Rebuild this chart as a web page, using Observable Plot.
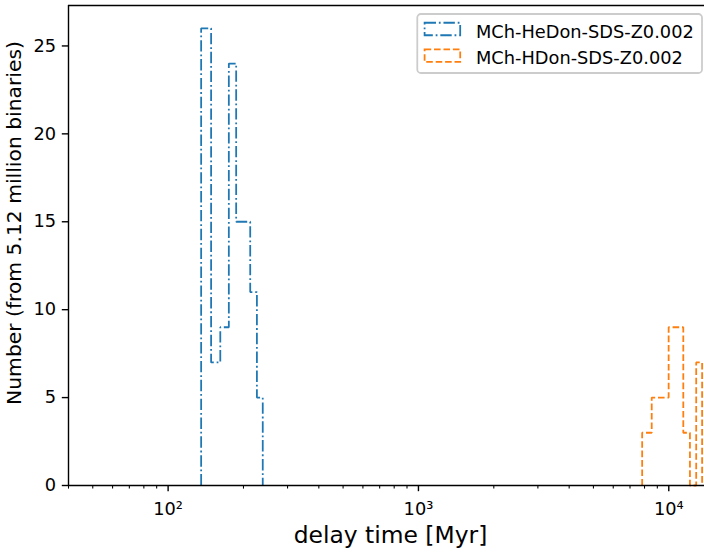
<!DOCTYPE html>
<html>
<head>
<meta charset="utf-8">
<script src="https://cdn.jsdelivr.net/npm/d3@7"></script>
<script src="https://cdn.jsdelivr.net/npm/@observablehq/plot@0.6"></script>
<style>
  html, body { margin: 0; padding: 0; background: white; }
  #chart { position: relative; width: 704px; height: 552px; overflow: hidden; }
</style>
</head>
<body>
<div id="chart"></div>
<script>
// ---- data ----
const seriesNames = ["MCh-HeDon-SDS-Z0.002", "MCh-HDon-SDS-Z0.002"];
const seriesColors = ["#1f77b4", "#ff7f0e"];
// bin edges (Myr) and counts
const heDonEdges = [135.5, 148.5, 161.6, 174.8, 187.0, 200.0, 212.8, 226.3, 238.8];
const heDonCounts = [26, 7, 9, 24, 15, 15, 11, 5];
const hDonEdges = [7828, 8548, 9268, 9988, 10708, 11428, 12148, 12868, 13588];
const hDonCounts = [3, 5, 5, 9, 9, 3, 0, 7];
// axes
const xDomain = [40, 13890];
const yDomain = [0, 27.3];
const yTicks = [0, 5, 10, 15, 20, 25];
const xMajorTicks = [100, 1000, 10000];
const xTickLabels = ["10\u00B2", "10\u00B3", "10\u2074"];
const xMinorTicks = [40, 50, 60, 70, 80, 90, 200, 300, 400, 500, 600, 700, 800, 900,
                     2000, 3000, 4000, 5000, 6000, 7000, 8000, 9000];
const xLabel = "delay time [Myr]";
const yLabel = "Number (from 5.12 million binaries)";

// ---- helpers ----
function stepOutline(edges, counts) {
  const pts = [{x: edges[0], y: 0}];
  counts.forEach((c, i) => {
    pts.push({x: edges[i], y: c});
    pts.push({x: edges[i + 1], y: c});
  });
  pts.push({x: edges[edges.length - 1], y: 0});
  return pts;
}

const PT = 1.78; // px per point
const dashDot = [6.4 * PT, 1.6 * PT, 1.0 * PT, 1.6 * PT].join(",");
const dashed = [3.7 * PT, 1.6 * PT].join(",");
const FS = 17.8;

const chart = Plot.plot({
  width: 704,
  height: 552,
  marginLeft: 68,
  marginRight: 0,
  marginTop: 5,
  marginBottom: 67,
  style: {fontFamily: "'DejaVu Sans'", fontSize: FS + "px", background: "white", color: "black", overflow: "visible"},
  x: {type: "log", domain: xDomain},
  y: {domain: yDomain},
  marks: [
    Plot.line(stepOutline(heDonEdges, heDonCounts), {
      x: "x", y: "y", stroke: seriesColors[0], strokeWidth: PT,
      strokeDasharray: dashDot, strokeLinecap: "butt", strokeLinejoin: "miter"
    }),
    Plot.line(stepOutline(hDonEdges, hDonCounts), {
      x: "x", y: "y", stroke: seriesColors[1], strokeWidth: PT,
      strokeDasharray: dashed, strokeLinecap: "butt", strokeLinejoin: "miter"
    }),
    Plot.ruleX([xDomain[0]], {stroke: "black", strokeWidth: 1.4}),
    Plot.ruleY([yDomain[0]], {stroke: "black", strokeWidth: 1.4}),
    Plot.ruleY([yDomain[1]], {stroke: "black", strokeWidth: 1.4}),
    Plot.axisY({ticks: yTicks, tickSize: 6.2, tickPadding: 6.2, strokeWidth: 1.4,
      label: null, fontSize: FS, tickFormat: d => String(d)}),
    Plot.axisX({ticks: xMinorTicks, tickSize: 3.6, strokeWidth: 1.07, label: null, tickFormat: () => ""}),
    Plot.axisX({ticks: xMajorTicks, tickSize: 6.2, tickPadding: 11, strokeWidth: 1.4,
      label: null, fontSize: FS, tickFormat: d => xTickLabels[xMajorTicks.indexOf(d)]})
  ]
});

document.getElementById("chart").appendChild(chart);

// axis labels and legend (text + decoration)
const svg = d3.select(chart);
svg.append("text")
  .attr("x", 390.5).attr("y", 543)
  .attr("text-anchor", "middle")
  .attr("font-family", "DejaVu Sans").attr("font-size", 23.4)
  .attr("fill", "black")
  .text(xLabel);
svg.append("text")
  .attr("transform", "translate(21,223) rotate(-90)")
  .attr("text-anchor", "middle")
  .attr("font-family", "DejaVu Sans").attr("font-size", 20.3)
  .attr("fill", "black")
  .text(yLabel);

const lg = svg.append("g");
lg.append("rect")
  .attr("x", 417.3).attr("y", 14).attr("width", 284.7).attr("height", 59)
  .attr("rx", 3.6).attr("ry", 3.6)
  .attr("fill", "white").attr("fill-opacity", 0.8)
  .attr("stroke", "#cccccc").attr("stroke-width", PT);
const rowCenters = [29, 55.7];
const dashes = [dashDot, dashed];
seriesNames.forEach((name, i) => {
  lg.append("rect")
    .attr("x", 424.6).attr("y", rowCenters[i] - 6.25)
    .attr("width", 35.6).attr("height", 12.5)
    .attr("fill", "none").attr("stroke", seriesColors[i])
    .attr("stroke-width", PT).attr("stroke-dasharray", dashes[i]);
  lg.append("text")
    .attr("x", 476).attr("y", rowCenters[i] + 8.7)
    .attr("text-anchor", "start")
    .attr("font-family", "DejaVu Sans").attr("font-size", FS)
    .attr("fill", "black")
    .text(name);
});
</script>
</body>
</html>
